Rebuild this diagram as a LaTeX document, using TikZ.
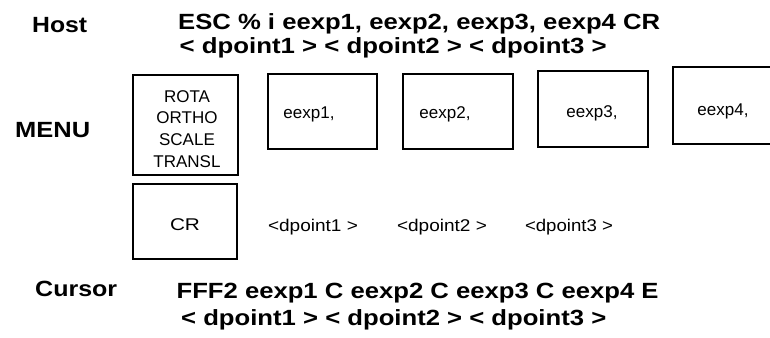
\documentclass[tikz,border=0pt]{standalone}
\usepackage{fontspec}
\setmainfont{Liberation Sans}
\usepackage{graphicx}
\newcommand\fw[2]{\resizebox{#1}{\height}{#2}}
\begin{document}
\begin{tikzpicture}[x=1pt,y=-1pt,
  hd/.style={font=\fontsize{22}{26}\selectfont\bfseries, inner sep=0pt, anchor=base west},
  bx/.style={draw, line width=1.9pt, rectangle, inner sep=0pt},
  bt/.style={font=\fontsize{17}{20}\selectfont, inner sep=0pt, anchor=base},
  dp/.style={font=\fontsize{17}{20}\selectfont, inner sep=0pt, anchor=base}]
\useasboundingbox (0,0) rectangle (770,337);
\clip (0,0) rectangle (770,337);
% boxes
\node[bx, minimum width=105pt, minimum height=100pt] (rota) at (185.5,125) {};
\node[bx, minimum width=104pt, minimum height=75pt] (crbox) at (185,221.5) {};
\node[bx, minimum width=109pt, minimum height=75pt] (b1) at (322.5,111.5) {};
\node[bx, minimum width=110pt, minimum height=75pt] (b2) at (458,111.5) {};
\node[bx, minimum width=110pt, minimum height=76pt] (b3) at (593,109) {};
\node[bx, minimum width=127pt, minimum height=77pt] (b4) at (736.5,105.5) {};
% headings
\node[hd] (host) at (32,33) {\fw{55pt}{Host}};
\node[hd] (esc) at (178,30) {\fw{482pt}{ESC \% i eexp1, eexp2, eexp3, eexp4 CR}};
\node[hd] (hdp) at (179.5,53) {\fw{427pt}{< dpoint1 > < dpoint2 > < dpoint3 >}};
\node[hd] (menu) at (15,137) {\fw{75pt}{MENU}};
% box texts
\node[bt] (r1) at (187,102) {ROTA};
\node[bt] (r2) at (187,123) {ORTHO};
\node[bt] (r3) at (187,145) {SCALE};
\node[bt] (r4) at (187,167) {TRANSL};
\node[bt] (t1) at (309,118) {eexp1,};
\node[bt] (t2) at (445,118) {eexp2,};
\node[bt] (t3) at (592,117) {eexp3,};
\node[bt] (t4) at (723,115) {eexp4,};
\node[bt] (crt) at (185,230) {\fw{30pt}{CR}};
\node[dp] (d1) at (313,231) {\fw{90pt}{<dpoint1 >}};
\node[dp] (d2) at (442,231) {\fw{90pt}{<dpoint2 >}};
\node[dp] (d3) at (569,231) {\fw{88pt}{<dpoint3 >}};
% cursor
\node[hd] (cur) at (35,296) {\fw{82pt}{Cursor}};
\node[hd] (fff) at (176.4,298) {\fw{482pt}{FFF2 eexp1 C eexp2 C eexp3 C eexp4 E}};
\node[hd] (cdp) at (181,325) {\fw{425pt}{< dpoint1 > < dpoint2 > < dpoint3 >}};
\end{tikzpicture}
\end{document}
